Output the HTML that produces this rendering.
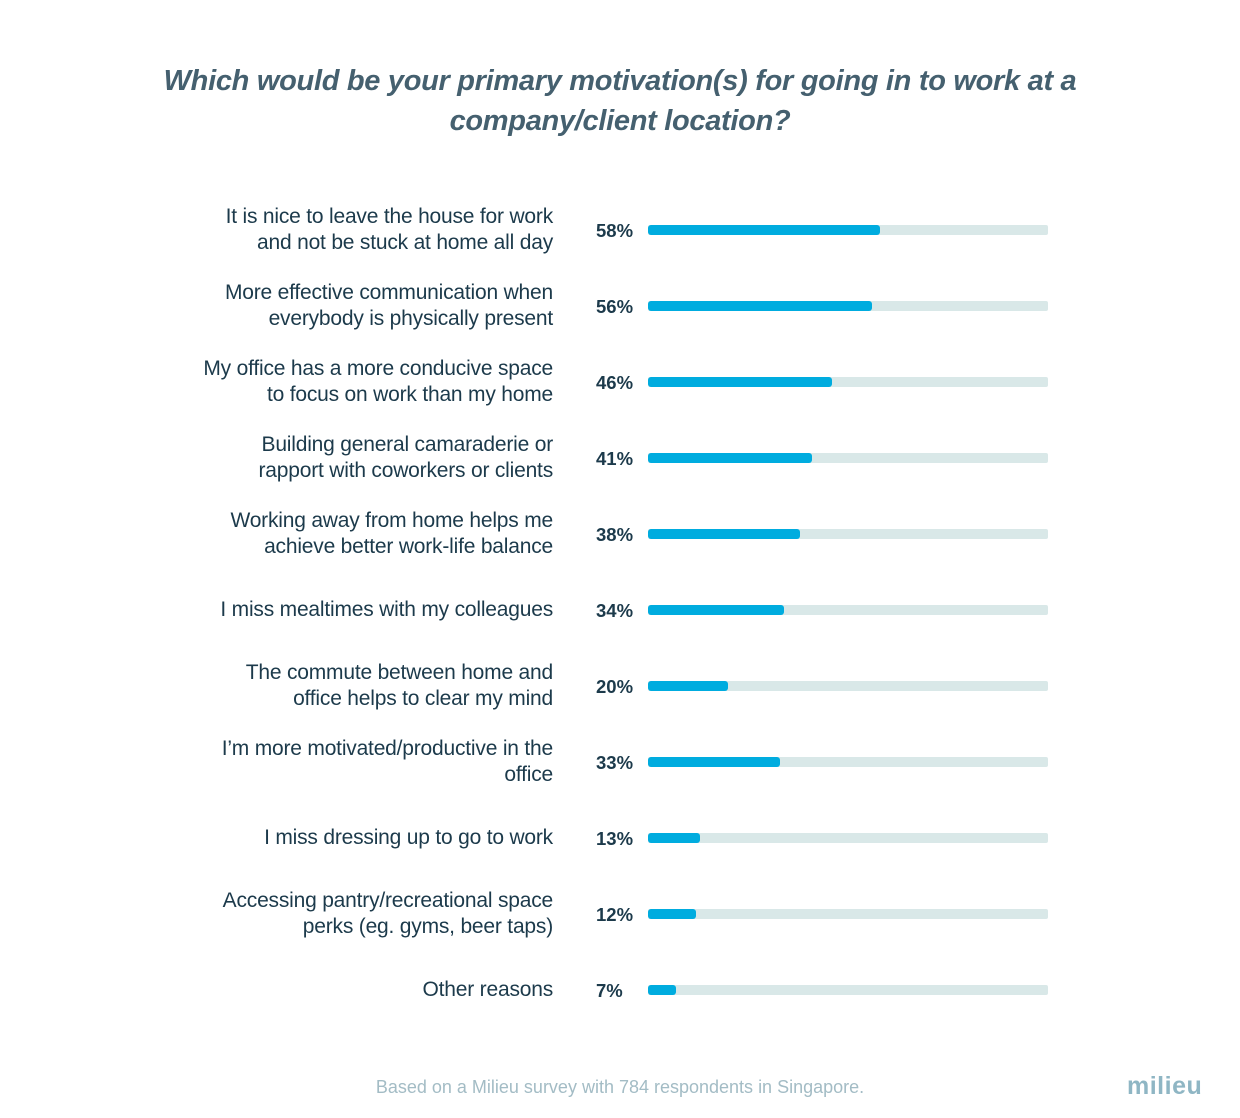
<!DOCTYPE html>
<html><head><meta charset="utf-8"><style>
body{margin:0;width:1240px;height:1118px;background:#fff;font-family:"Liberation Sans",sans-serif;position:relative;overflow:hidden}
.t{position:absolute;left:0;width:1240px;text-align:center;font-style:italic;font-weight:bold;font-size:29px;color:#45606f;line-height:40px;top:61px;letter-spacing:-0.3px}
.l{position:absolute;right:687px;text-align:right;font-size:21px;color:#1c3a4b;line-height:26px;letter-spacing:-0.2px;white-space:nowrap}
.p{position:absolute;left:596px;font-weight:bold;font-size:18.5px;color:#1c3a4b;line-height:20px}
.tr{position:absolute;left:648px;width:400px;height:10px;background:#d9e8e8;border-radius:2px}
.f{position:absolute;left:0;top:0;height:10px;background:#00acdf;border-radius:3px}
.ft{position:absolute;left:0;width:1240px;text-align:center;top:1077px;font-size:18px;color:#a3bcc5}
.lg{position:absolute;left:1127px;top:1072px;font-size:25px;font-weight:bold;color:#8fb6c4;letter-spacing:0.5px}
</style></head><body>
<div class="t">Which would be your primary motivation(s) for going in to work at a<br>company/client location?</div>

<div class="l" style="top:204px">It is nice to leave the house for work<br>and not be stuck at home all day</div>
<div class="p" style="top:221px">58%</div><div class="tr" style="top:225px"><div class="f" style="width:232px"></div></div>

<div class="l" style="top:280px">More effective communication when<br>everybody is physically present</div>
<div class="p" style="top:297px">56%</div><div class="tr" style="top:301px"><div class="f" style="width:224px"></div></div>

<div class="l" style="top:356px">My office has a more conducive space<br>to focus on work than my home</div>
<div class="p" style="top:373px">46%</div><div class="tr" style="top:377px"><div class="f" style="width:184px"></div></div>

<div class="l" style="top:432px">Building general camaraderie or<br>rapport with coworkers or clients</div>
<div class="p" style="top:449px">41%</div><div class="tr" style="top:453px"><div class="f" style="width:164px"></div></div>

<div class="l" style="top:508px">Working away from home helps me<br>achieve better work-life balance</div>
<div class="p" style="top:525px">38%</div><div class="tr" style="top:529px"><div class="f" style="width:152px"></div></div>

<div class="l" style="top:597px">I miss mealtimes with my colleagues</div>
<div class="p" style="top:601px">34%</div><div class="tr" style="top:605px"><div class="f" style="width:136px"></div></div>

<div class="l" style="top:660px">The commute between home and<br>office helps to clear my mind</div>
<div class="p" style="top:677px">20%</div><div class="tr" style="top:681px"><div class="f" style="width:80px"></div></div>

<div class="l" style="top:736px">I’m more motivated/productive in the<br>office</div>
<div class="p" style="top:753px">33%</div><div class="tr" style="top:757px"><div class="f" style="width:132px"></div></div>

<div class="l" style="top:825px">I miss dressing up to go to work</div>
<div class="p" style="top:829px">13%</div><div class="tr" style="top:833px"><div class="f" style="width:52px"></div></div>

<div class="l" style="top:888px">Accessing pantry/recreational space<br>perks (eg. gyms, beer taps)</div>
<div class="p" style="top:905px">12%</div><div class="tr" style="top:909px"><div class="f" style="width:48px"></div></div>

<div class="l" style="top:977px">Other reasons</div>
<div class="p" style="top:981px">7%</div><div class="tr" style="top:985px"><div class="f" style="width:28px"></div></div>

<div class="ft">Based on a Milieu survey with 784 respondents in Singapore.</div>
<div class="lg">milieu</div>
</body></html>
